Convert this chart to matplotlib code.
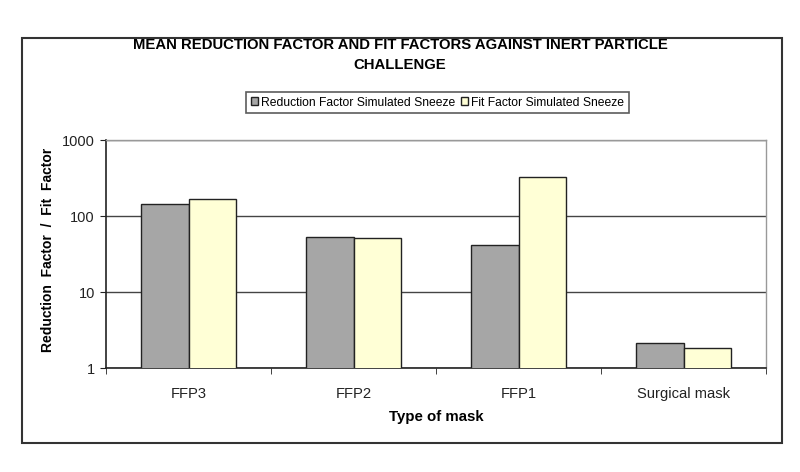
import numpy as np
import matplotlib.pyplot as plt
from matplotlib.patches import Rectangle

# values (log scale)
masks = ["FFP3", "FFP2", "FFP1", "Surgical mask"]
reduction_factor = [144, 53, 42, 2.15]
fit_factor = [166, 51, 330, 1.85]
series_names = ["Reduction Factor Simulated Sneeze", "Fit Factor Simulated Sneeze"]

plt.rcParams['font.family'] = ['Liberation Sans', 'DejaVu Sans']

W, H = 800, 472
fig = plt.figure(figsize=(W / 100, H / 100), dpi=100)

# outer chart border
fig.patches.append(Rectangle((22 / W, 1 - 443 / H), 760 / W, 405 / H,
                             transform=fig.transFigure, fill=False,
                             edgecolor="#333333", linewidth=1.5))

ax = fig.add_axes([106 / W, 1 - 368 / H, 660 / W, 228 / H])

x = np.arange(len(masks))
w = 0.2857
ax.bar(x - w / 2, reduction_factor, w, color="#A6A6A6", edgecolor="#222222",
       linewidth=1.0, label=series_names[0], zorder=3)
ax.bar(x + w / 2, fit_factor, w, color="#FFFFD6", edgecolor="#222222",
       linewidth=1.0, label=series_names[1], zorder=3)

ax.set_yscale("log")
ax.set_ylim(1, 1000)
ax.set_xlim(-0.5, len(masks) - 0.5)
ax.set_yticks([1, 10, 100, 1000])
ax.set_yticklabels(["1", "10", "100", "1000"])
ax.minorticks_off()
ax.yaxis.grid(True, color="#444444", linewidth=1.0, zorder=0)

ax.set_xticks(x)
ax.set_xticklabels(masks)
ax.set_xticks(np.arange(-0.5, len(masks) + 0.5, 1), minor=True)
ax.tick_params(axis="x", which="major", length=0, pad=14, labelsize=10.6, colors="#222222")
ax.tick_params(axis="x", which="minor", length=4, direction="out", color="#222222")
ax.tick_params(axis="y", length=4, direction="out", pad=4, labelsize=10.5, colors="#222222")

for s in ["top", "right"]:
    ax.spines[s].set_color("#999999")
    ax.spines[s].set_linewidth(1.0)
for s in ["left", "bottom"]:
    ax.spines[s].set_color("#222222")
    ax.spines[s].set_linewidth(1.2)

ax.set_xlabel("Type of mask", fontsize=10.8, fontweight="bold", labelpad=6)
ax.set_ylabel("Reduction  Factor  /  Fit  Factor", fontsize=10, fontweight="bold")
ax.yaxis.set_label_coords(-0.078, 0.52)

fig.text(0.5, 1 - 45 / H, "MEAN REDUCTION FACTOR AND FIT FACTORS AGAINST INERT PARTICLE",
         ha="center", va="center", fontsize=10.7, fontweight="bold")
fig.text(0.5, 1 - 65 / H, "CHALLENGE", ha="center", va="center",
         fontsize=10.7, fontweight="bold")

leg = ax.legend(loc="center", bbox_to_anchor=(437.5 / W, 1 - 102.5 / H),
                bbox_transform=fig.transFigure, ncol=2, fontsize=8.7,
                frameon=True, fancybox=False, handlelength=0.6, handleheight=0.6,
                handletextpad=0.3, columnspacing=0.4, borderpad=0.4)
leg.get_frame().set_edgecolor("#333333")
leg.get_frame().set_linewidth(1.2)

fig.savefig("out.png", dpi=100)
